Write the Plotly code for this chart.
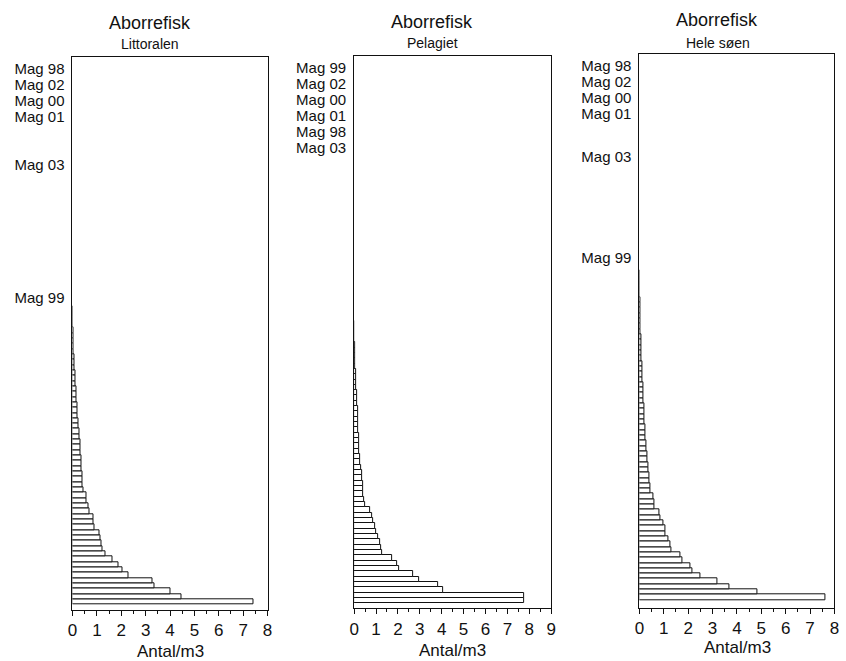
import plotly.graph_objects as go

W, H = 846, 661

# ---- data (ranked samples, bottom = largest) ----
littoral_values = [7.43, 4.49, 4.0, 3.36, 3.27, 2.28, 2.05, 1.9, 1.63, 1.36, 1.22, 1.18, 1.13, 1.1,
                   0.9, 0.85, 0.85, 0.68, 0.65, 0.58, 0.56, 0.46, 0.43, 0.41, 0.41, 0.38, 0.37,
                   0.36, 0.34, 0.32, 0.31, 0.29, 0.27, 0.26, 0.24, 0.22, 0.21, 0.19, 0.18, 0.17,
                   0.15, 0.14, 0.12, 0.11, 0.10, 0.08, 0.07, 0.06, 0.05, 0.04, 0.03, 0.025, 0.02,
                   0.015, 0.01, 0.005]
pelagic_values = [7.77, 7.77, 4.07, 3.83, 2.97, 2.68, 2.06, 1.97, 1.75, 1.28, 1.25, 1.17, 1.1, 1.02,
                  0.95, 0.87, 0.8, 0.72, 0.5, 0.47, 0.42, 0.42, 0.39, 0.38, 0.35, 0.32, 0.27,
                  0.26, 0.25, 0.24, 0.23, 0.22, 0.2, 0.19, 0.18, 0.17, 0.16, 0.15, 0.13, 0.12,
                  0.11, 0.1, 0.08, 0.07, 0.06, 0.05, 0.04, 0.03, 0.025, 0.02, 0.015, 0.01, 0.005]
whole_values = [7.62, 4.84, 3.71, 3.2, 2.5, 2.19, 2.11, 1.76, 1.7, 1.33, 1.26, 1.2, 1.08, 1.05,
                0.99, 0.85, 0.83, 0.62, 0.6, 0.58, 0.47, 0.45, 0.42, 0.39, 0.38, 0.35, 0.34,
                0.31, 0.28, 0.27, 0.26, 0.24, 0.23, 0.22, 0.21, 0.2, 0.19, 0.18, 0.17, 0.16,
                0.15, 0.14, 0.13, 0.12, 0.11, 0.1, 0.09, 0.085, 0.08, 0.07, 0.06, 0.055, 0.05,
                0.04, 0.035, 0.03, 0.025, 0.02, 0.015, 0.01, 0.007, 0.004]

littoral_labels = ["Mag 98", "Mag 02", "Mag 00", "Mag 01", "Mag 03", "Mag 99"]
littoral_label_rank = [100, 97, 94, 91, 82, 57]
pelagic_labels = ["Mag 99", "Mag 02", "Mag 00", "Mag 01", "Mag 98", "Mag 03"]
pelagic_label_rank = [100, 97, 94, 91, 88, 85]
whole_labels = ["Mag 98", "Mag 02", "Mag 00", "Mag 01", "Mag 03", "Mag 99"]
whole_label_rank = [100, 97, 94, 91, 83, 64]

titles = ["Aborrefisk", "Aborrefisk", "Aborrefisk"]
subtitles = ["Littoralen", "Pelagiet", "Hele søen"]
x_title = "Antal/m3"
x_max = [8, 9, 8]

# ---- layout geometry (pixels) ----
panels = [
    dict(x0=68.3, x1=265.7, top=57.3, bottom=610.0, yr=[-1.5, 102.2],
         tx=147, ty=22.7, sx=146.5, sy=44.0, ax=167.8, ay=651.0),
    dict(x0=353.3, x1=552.7, top=56.0, bottom=608.3, yr=[-1.43, 102.2],
         tx=432, ty=21.7, sx=433, sy=43.3, ax=452.7, ay=650.0),
    dict(x0=642.0, x1=839.3, top=54.3, bottom=608.0, yr=[-2.0, 102.2],
         tx=721, ty=20.0, sx=721.3, sy=42.7, ax=741.0, ay=647.0),
]
series = [(littoral_values, littoral_labels, littoral_label_rank),
          (pelagic_values, pelagic_labels, pelagic_label_rank),
          (whole_values, whole_labels, whole_label_rank)]

FONT = "Liberation Sans, Arial, sans-serif"
INK = "#111111"

fig = go.Figure()
annotations = []
layout_axes = {}
for i, (p, (vals, labs, ranks)) in enumerate(zip(panels, series)):
    n = i + 1
    xa = "x" if n == 1 else f"x{n}"
    ya = "y" if n == 1 else f"y{n}"
    fig.add_trace(go.Bar(
        x=vals, y=list(range(len(vals))), orientation="h",
        xaxis=xa, yaxis=ya,
        marker=dict(color="white", line=dict(color=INK, width=1)),
        showlegend=False, hoverinfo="x",
    ))
    xkey = "xaxis" if n == 1 else f"xaxis{n}"
    ykey = "yaxis" if n == 1 else f"yaxis{n}"
    layout_axes[xkey] = dict(
        domain=[p["x0"] / W, p["x1"] / W], anchor=ya,
        range=[0, x_max[i]], tickmode="linear", tick0=0, dtick=1,
        ticks="outside", ticklen=5, tickcolor=INK, tickwidth=1,
        minor=dict(ticks="outside", ticklen=3, dtick=0.5, tickcolor=INK, tickwidth=1),
        showline=True, mirror=True, linecolor=INK, linewidth=1,
        showgrid=False, zeroline=False,
        tickfont=dict(family=FONT, size=17, color=INK),
        fixedrange=True,
    )
    layout_axes[ykey] = dict(
        domain=[1 - p["bottom"] / H, 1 - p["top"] / H], anchor=xa,
        range=p["yr"], tickmode="array", tickvals=ranks, ticktext=labs,
        ticks="", ticklabelstandoff=4,
        showline=True, mirror=True, linecolor=INK, linewidth=1,
        showgrid=False, zeroline=False,
        tickfont=dict(family=FONT, size=15, color=INK),
        fixedrange=True,
    )
    annotations += [
        dict(text=titles[i], x=p["tx"] / W, y=1 - p["ty"] / H, xref="paper", yref="paper",
             showarrow=False, xanchor="center", yanchor="middle",
             font=dict(family=FONT, size=18, color=INK)),
        dict(text=subtitles[i], x=p["sx"] / W, y=1 - p["sy"] / H, xref="paper", yref="paper",
             showarrow=False, xanchor="center", yanchor="middle",
             font=dict(family=FONT, size=14, color=INK)),
        dict(text=x_title, x=p["ax"] / W, y=1 - p["ay"] / H, xref="paper", yref="paper",
             showarrow=False, xanchor="center", yanchor="middle",
             font=dict(family=FONT, size=17, color=INK)),
    ]

fig.update_layout(
    width=W, height=H, margin=dict(l=0, r=0, t=0, b=0),
    paper_bgcolor="white", plot_bgcolor="white",
    bargap=0, barmode="overlay",
    annotations=annotations,
    **layout_axes,
)

fig.write_html("out.html")
